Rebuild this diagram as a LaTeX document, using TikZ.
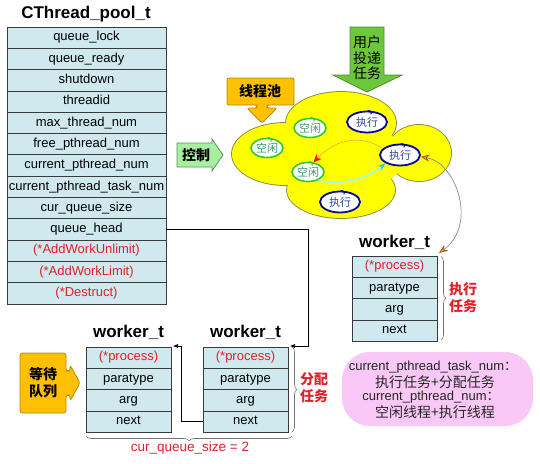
\documentclass[tikz,border=0pt]{standalone}
\usepackage{fontspec}
\setmainfont{Liberation Sans}
\newfontfamily\cjk{Noto Sans CJK SC}
\usetikzlibrary{arrows.meta,decorations.pathreplacing,shapes.geometric,calc}
\definecolor{cellfill}{HTML}{CFE9EE}
\definecolor{cellline}{HTML}{3A3A3A}
\definecolor{redtxt}{HTML}{E0202A}
\definecolor{gold}{HTML}{FFC000}
\definecolor{goldline}{HTML}{B98A00}
\definecolor{ltgreen}{HTML}{A6F0A0}
\definecolor{ltgreenline}{HTML}{5E8F5E}
\definecolor{midgreen}{HTML}{6CC83A}
\definecolor{midgreenline}{HTML}{4C8A2A}
\definecolor{pinkbox}{HTML}{F9C8F6}
\definecolor{cloudyellow}{HTML}{FFFF00}
\definecolor{cloudline}{HTML}{8A8A40}
\definecolor{idlegreen}{HTML}{2FCB2F}
\definecolor{idletxt}{HTML}{3A9A6A}
\definecolor{runblue}{HTML}{0A0A8C}
\definecolor{busytxt}{HTML}{2A4AA0}
\definecolor{bracegray}{HTML}{707070}
\definecolor{curveorange}{HTML}{E0B030}
\definecolor{tiporange}{HTML}{E8903A}
\definecolor{tipdark}{HTML}{A05A20}
\definecolor{cyanline}{HTML}{A8F4F4}
\definecolor{cyantip}{HTML}{30C8D0}
\definecolor{arcgray}{HTML}{8A8A8A}
\tikzset{
  cell/.style={draw=cellline, fill=cellfill, line width=0.8pt, minimum height=21.3pt,
    inner sep=0pt, text height=9.3pt, text depth=2.7pt, font=\fontsize{13}{13}\selectfont},
  tcell/.style={cell, minimum width=159pt},
  wcell/.style={cell, minimum width=85pt},
  redcell/.style={text=redtxt},
  titletext/.style={font=\fontsize{17}{17}\selectfont\bfseries, inner sep=0pt, anchor=base},
  conn/.style={draw=black, line width=0.6pt, -{Latex[length=5pt,width=4pt]}},
  bracebr/.style={draw=bracegray, line width=0.6pt, decorate, decoration={brace, amplitude=5pt}},
  idle/.style={ellipse, draw=idlegreen, line width=1.6pt, fill=white, minimum width=32pt,
    minimum height=19pt, inner sep=0pt, text=idletxt, font=\cjk\fontsize{11}{11}\selectfont},
  busy/.style={ellipse, draw=runblue, line width=1.8pt, fill=white, minimum width=40pt,
    minimum height=21pt, inner sep=0pt, text=busytxt, font=\cjk\fontsize{11}{11}\selectfont},
  redlabel/.style={text=redtxt, font=\cjk\bfseries\fontsize{14}{17}\selectfont, align=center, inner sep=0pt},
  calltext/.style={font=\cjk\bfseries\fontsize{14}{17}\selectfont, align=center, inner sep=0pt},
  pinktext/.style={inner sep=0pt, text=black!85},
}
\newcommand\blobcurl[2]{%
  \draw[#2, line width=1.1pt, line cap=round] ($(#1.north)+(1,0)$) .. controls +(3,0) and +(2,-1) .. ($(#1.north)+(4,3.5)$);}
\begin{document}
\begin{tikzpicture}[x=1pt, y=-1pt]
\useasboundingbox (0,0) rectangle (540,463);
\fill[white] (0,0) rectangle (540,463);

% ---------------- main table ----------------
\node[titletext] (ptitle) at (86,18.5) {CThread\_pool\_t};
\foreach \t [count=\i] in {queue\_lock,queue\_ready,shutdown,threadid,max\_thread\_num,free\_pthread\_num,current\_pthread\_num,current\_pthread\_task\_num,cur\_queue\_size,queue\_head}
  \node[tcell] (r\i) at (86.5, {27+21.3*(\i-0.5)}) {\t};
\node[tcell, redcell] (r11) at (86.5, {27+21.3*10.5}) {(*AddWorkUnlimit)};
\node[tcell, redcell] (r12) at (86.5, {27+21.3*11.5}) {(*AddWorkLimit)};
\node[tcell, redcell] (r13) at (86.5, {27+21.3*12.5}) {(*Destruct)};

% ---------------- worker boxes ----------------
\node[titletext] (tA) at (128.5,337) {worker\_t};
\node[titletext] (tB) at (245.5,337) {worker\_t};
\node[titletext] (tC) at (394.5,247) {worker\_t};
\foreach \n/\x/\y in {wa/128.5/347, wb/245.5/347, wc/394.5/256} {
  \node[wcell, redcell] (\n1) at (\x, {\y+21.3*0.5}) {(*process)};
  \node[wcell] (\n2) at (\x, {\y+21.3*1.5}) {paratype};
  \node[wcell] (\n3) at (\x, {\y+21.3*2.5}) {arg};
  \node[wcell] (\n4) at (\x, {\y+21.3*3.5}) {next};
}

% braces and labels
\draw[bracebr] (441,256.5) -- (441,340);
\node[redlabel] (lblexec) at (463,298) {执行\\任务};
\draw[bracebr] (292,347) -- (292,432);
\node[redlabel] (lblassign) at (314,388) {分配\\任务};
\draw[bracebr] (292,436) -- (86,436);
\node[inner sep=0pt, text=redtxt, font=\fontsize{13.5}{13.5}\selectfont] (cqs) at (190,448) {cur\_queue\_size = 2};

% connectors
\coordinate (qh) at (308,346);
\coordinate (wbIn) at (290,346);
\draw[conn] (r10.east) -| (qh) -- (wbIn);
\coordinate (lk) at (181,346);
\coordinate (waIn) at (173,346);
\draw[conn] (wb4.west) -| (lk) -- (waIn);

% ---------------- waiting queue callout ----------------
\draw[draw=goldline, fill=gold, line width=0.8pt, rounded corners=2.5pt]
  (20,353) -- (66,353) -- (66,371) -- (70,371) -- (70,365) -- (80,383) -- (70,401) -- (70,395) -- (66,395) -- (66,413) -- (20,413) -- cycle;
\node[calltext] (wq) at (43,383) {等待\\队列};

% ---------------- pink note ----------------
\fill[pinkbox, rounded corners=28pt] (342,352) rectangle (533,426);
\node[pinktext, font=\fontsize{13}{13}\selectfont] (p1) at (433,367) {current\_pthread\_task\_num{\cjk ：}};
\node[pinktext, font=\cjk\fontsize{14}{14}\selectfont] (p2) at (435,382) {执行任务+分配任务};
\node[pinktext, font=\fontsize{13}{13}\selectfont] (p3) at (431,397) {current\_pthread\_num{\cjk ：}};
\node[pinktext, font=\cjk\fontsize{14}{14}\selectfont] (p4) at (435,412) {空闲线程+执行线程};

% ---------------- cloud ----------------
\foreach \cx/\cy/\rx/\ry in {285/154/53/31, 341/123/55/31, 419/153/32/28, 341/190/54/28}
  \draw[draw=cloudline, line width=1.8pt] (\cx,\cy) ellipse [x radius=\rx, y radius=\ry];
\foreach \cx/\cy/\rx/\ry in {285/154/53/31, 341/123/55/31, 419/153/32/28, 341/190/54/28, 342/157/62/36}
  \fill[cloudyellow] (\cx,\cy) ellipse [x radius=\rx, y radius=\ry];

\node[idle] (i1) at (310,128) {空闲};
\node[idle] (i2) at (267,148) {空闲};
\node[idle] (i3) at (308,172) {空闲};
\node[busy] (b1) at (367,122) {执行};
\node[busy] (b2) at (400,155) {执行};
\node[busy] (b3) at (340,202) {执行};
\blobcurl{i1}{idlegreen}
\blobcurl{i2}{idlegreen}
\blobcurl{i3}{idlegreen}
\blobcurl{b1}{runblue}
\blobcurl{b2}{runblue}
\blobcurl{b3}{runblue}

\draw[draw=curveorange, line width=0.6pt, -{Stealth[length=8pt,width=7pt,fill=red,color=red]}]
  (b2.160) .. controls (365,136) and (338,136) .. (i3.60);
\draw[draw=cyanline, line width=1.6pt, -{Stealth[length=8pt,width=6pt,fill=cyantip,color=cyantip]}]
  (i3.-40) .. controls (340,186) and (365,180) .. (b2.-150);
\draw[draw=arcgray, line width=0.7pt,
  {Stealth[length=9pt,width=7pt,fill=tiporange,color=tipdark]}-{Stealth[length=9pt,width=7pt,fill=tiporange,color=tipdark]}]
  (b2.-5) .. controls (456,162) and (478,225) .. (439,253);

% ---------------- callouts ----------------
\draw[draw=goldline, fill=gold, line width=0.8pt, rounded corners=2pt]
  (227,78) -- (294,78) -- (294,105) -- (267,105) -- (267,108) -- (277,108) -- (262,123) -- (247,108) -- (257,108) -- (257,105) -- (227,105) -- cycle;
\node[calltext] (pool) at (260,91.5) {线程池};

\draw[draw=ltgreenline, fill=ltgreen, line width=0.8pt]
  (177,143) -- (212,143) -- (212,139) -- (223,155) -- (212,171) -- (212,167) -- (177,167) -- cycle;
\node[calltext] (ctrl) at (196,155) {控制};

\draw[draw=midgreenline, fill=midgreen, line width=0.8pt]
  (350,27) -- (384,27) -- (384,75) -- (402,75) -- (367,92) -- (333,75) -- (350,75) -- cycle;
\node[inner sep=0pt, align=center, font=\cjk\fontsize{14}{15.5}\selectfont] (user) at (367,58) {用户\\投递\\任务};
\end{tikzpicture}
\end{document}
